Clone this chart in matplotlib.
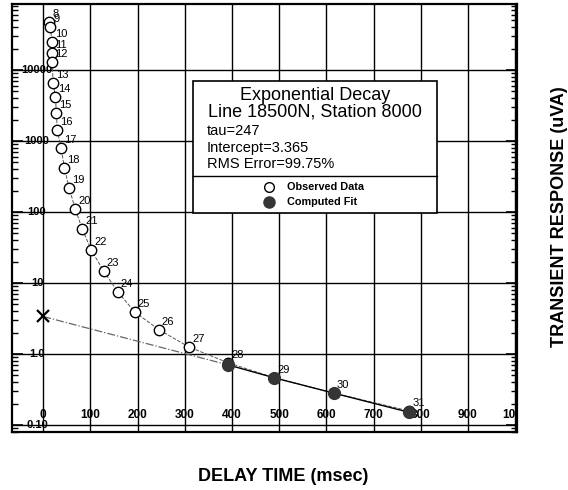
import numpy as np
import matplotlib.pyplot as plt
from matplotlib.patches import Rectangle
from matplotlib.lines import Line2D

plt.rcParams['font.family'] = ['Liberation Sans', 'DejaVu Sans']

# Observed decay, channels 8..31
channels = list(range(8, 32))
obs_time = [13, 15, 19, 19, 19, 21, 26, 28, 30, 38, 45, 55, 68, 83, 102, 128,
            158, 194, 245, 309, 392, 490, 616, 776]
obs_resp = [47500, 40400, 24700, 17300, 13000, 6600, 4200, 2450, 1420, 800, 420,
            218, 110, 57, 29, 14.8, 7.5, 3.9, 2.2, 1.25, 0.75, 0.46, 0.28, 0.157]

# Computed fit (channels 28..31)
fit_time = [392, 490, 616, 776]
fit_resp = [0.70, 0.46, 0.28, 0.15]

# fit parameters
tau = 247
intercept = 3.365

xticks = [0, 100, 200, 300, 400, 500, 600, 700, 800, 900, 1000]
yticks = [0.1, 1, 10, 100, 1000, 10000]
ytick_labels = ['0.10', '1.0', '10', '100', '1000', '10000']

fig = plt.figure(figsize=(5.68, 4.90), dpi=100)
ax = fig.add_axes([12/568, 58/490, 505/568, 428/490])
ax.set_yscale('log')
ax.set_xlim(-66, 1004)
ax.set_ylim(0.0794, 85000)

# grid
for xv in xticks:
    ax.axvline(xv, color='black', lw=1.0, zorder=1)
for yv in yticks:
    ax.axhline(yv, color='black', lw=1.0, zorder=1)

# ticks: inward, on left and right spines only
ax.set_xticks([])
ax.yaxis.set_ticks_position('both')
ax.tick_params(axis='y', which='major', direction='in', length=8, width=1.2,
               labelleft=False, labelright=False)
ax.tick_params(axis='y', which='minor', direction='in', length=4, width=1.0,
               labelleft=False, labelright=False)
for sp in ax.spines.values():
    sp.set_linewidth(1.6)

# tick labels drawn inside the frame
for xv in xticks:
    ax.text(xv, 0.137, str(xv), ha='center', va='center', fontsize=8.5,
            fontweight='bold', clip_on=True, zorder=3)
for yv, lab in zip(yticks, ytick_labels):
    ax.text(-13, yv, lab, ha='center', va='center', fontsize=8,
            fontweight='bold', zorder=3)

# observed data connected by a thin dashed line
ax.plot(obs_time, obs_resp, ls='--', color='#555555', lw=0.7, zorder=2)
# line from intercept to first fitted point
ax.plot([0, fit_time[0]], [intercept, fit_resp[0]], ls='-.', color='#666666',
        lw=0.9, zorder=2)
ax.plot(fit_time, fit_resp, '-', color='black', lw=1.0, zorder=2)

ax.plot(obs_time, obs_resp, 'o', mfc='white', mec='black', ms=7.5, mew=1.0,
        zorder=5)
ax.plot(fit_time, fit_resp, 'o', color='#353535', ms=8.5, zorder=6)
ax.plot([0], [intercept], 'x', color='black', ms=8, mew=1.6, zorder=6)

for ch, t, r in zip(channels, obs_time, obs_resp):
    ax.annotate(str(ch), (t, r), xytext=(3, 3), textcoords='offset pixels',
                fontsize=8, ha='left', va='bottom', zorder=4)

# info / legend box
ax.add_patch(Rectangle((0.358, 0.512), 0.484, 0.308, transform=ax.transAxes,
                       fc='white', ec='black', lw=1.2, zorder=7))
ax.plot([0.358, 0.842], [0.598, 0.598], transform=ax.transAxes, color='black',
        lw=1.0, zorder=8)
ax.text(0.600, 0.776, 'Exponential Decay', transform=ax.transAxes, ha='center',
        va='baseline', fontsize=13, zorder=8)
ax.text(0.600, 0.736, 'Line 18500N, Station 8000', transform=ax.transAxes,
        ha='center', va='baseline', fontsize=13, zorder=8)
ax.text(0.386, 0.694, 'tau=%d' % tau, transform=ax.transAxes, ha='left',
        va='baseline', fontsize=10.5, zorder=8)
ax.text(0.386, 0.654, 'Intercept=%.3f' % intercept, transform=ax.transAxes,
        ha='left', va='baseline', fontsize=10.5, zorder=8)
ax.text(0.386, 0.617, 'RMS Error=99.75%', transform=ax.transAxes, ha='left',
        va='baseline', fontsize=10.5, zorder=8)
ax.add_line(Line2D([0.509], [0.572], transform=ax.transAxes, marker='o', ms=7,
                   mfc='white', mec='black', mew=1.0, zorder=8))
ax.add_line(Line2D([0.509], [0.537], transform=ax.transAxes, marker='o', ms=8,
                   color='#353535', zorder=8))
ax.text(0.545, 0.572, 'Observed Data', transform=ax.transAxes, ha='left',
        va='center', fontsize=7.8, fontweight='bold', zorder=8)
ax.text(0.545, 0.537, 'Computed Fit', transform=ax.transAxes, ha='left',
        va='center', fontsize=7.8, fontweight='bold', zorder=8)

fig.text(283/568, 1 - 476/490, 'DELAY TIME (msec)', ha='center', va='center',
         fontsize=13, fontweight='bold')
fig.text(559/568, 1 - 217/490, 'TRANSIENT RESPONSE (uVA)', ha='center',
         va='center', rotation=90, fontsize=13, fontweight='bold')

fig.savefig('out.png', dpi=100)
